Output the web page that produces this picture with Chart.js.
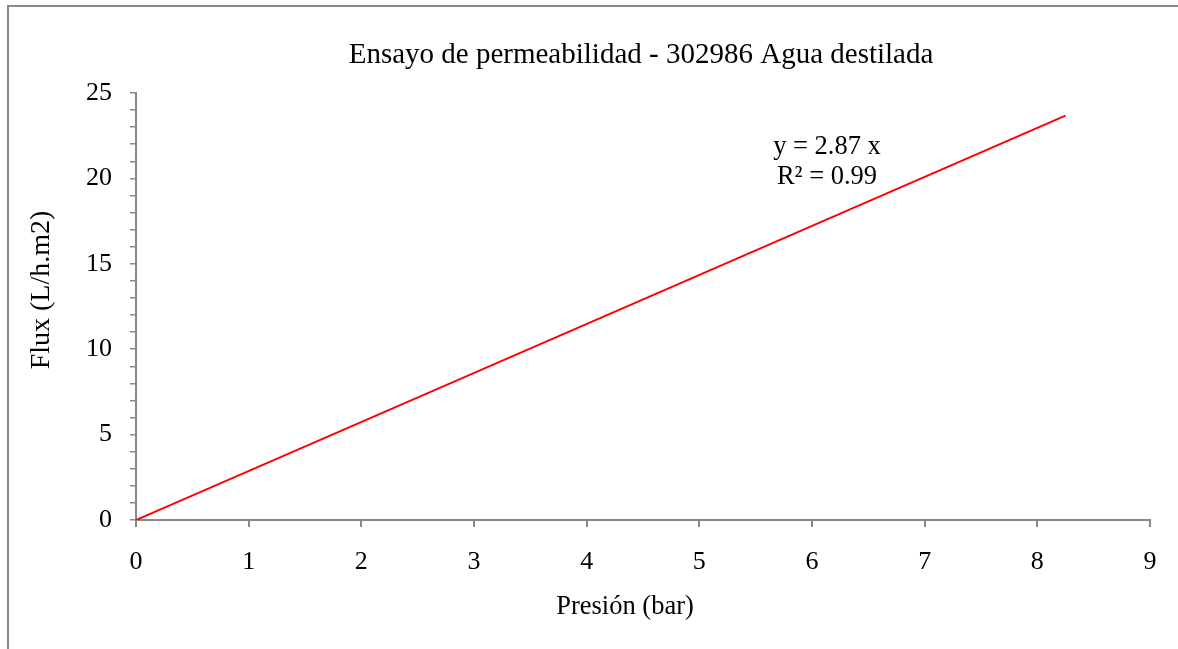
<!DOCTYPE html>
<html>
<head>
<meta charset="utf-8">
<title>Ensayo de permeabilidad</title>
<script src="https://cdn.jsdelivr.net/npm/chart.js@4/dist/chart.umd.min.js"></script>
<style>
  html, body { margin: 0; padding: 0; background: #ffffff; }
  canvas { display: block; }
</style>
</head>
<body>
<canvas id="chart" width="1178" height="649"></canvas>
<script>
// Trend line of flux against pressure (distilled water)
const pressureBar = [0, 8.25];
const fluxValues = [0, 23.68];
const xTicks = [0, 1, 2, 3, 4, 5, 6, 7, 8, 9];
const yLabelTicks = [0, 5, 10, 15, 20, 25];
const chartTitle = 'Ensayo de permeabilidad - 302986 Agua destilada';
const trendLabel = ['y = 2.87 x', 'R\u00b2 = 0.99'];
const xTitle = 'Presi\u00f3n (bar)';
const yTitle = 'Flux (L/h.m2)';

const FONT = "'Liberation Serif', 'Times New Roman', serif";
const AXIS = '#898989';

// Outer frame, titles and the regression label
const decorations = {
  id: 'decorations',
  beforeDraw(chart) {
    const c = chart.ctx;
    c.save();
    c.fillStyle = '#ffffff';
    c.fillRect(0, 0, chart.width, chart.height);
    c.strokeStyle = AXIS;
    c.lineWidth = 2;
    c.beginPath();
    c.moveTo(8, chart.height + 5);
    c.lineTo(8, 6);
    c.lineTo(chart.width + 5, 6);
    c.stroke();
    c.restore();
  },
  afterDraw(chart) {
    const c = chart.ctx;
    c.save();
    c.fillStyle = '#000000';
    c.textAlign = 'center';
    c.textBaseline = 'middle';
    c.font = '29px ' + FONT;
    c.fillText(chartTitle, 641, 55);
    c.font = '26.5px ' + FONT;
    c.fillText(trendLabel[0], 827, 147);
    c.fillText(trendLabel[1], 827, 177);
    c.font = '26.5px ' + FONT;
    c.fillText(xTitle, 625, 607);
    c.translate(42, 290);
    c.rotate(-Math.PI / 2);
    c.font = '28px ' + FONT;
    c.fillText(yTitle, 0, 0);
    c.restore();
  }
};

new Chart(document.getElementById('chart'), {
  type: 'scatter',
  data: {
    datasets: [{
      data: pressureBar.map((p, i) => ({ x: p, y: fluxValues[i] })),
      showLine: true,
      borderColor: '#ff0000',
      borderWidth: 2,
      pointRadius: 0,
      fill: false
    }]
  },
  options: {
    responsive: false,
    animation: false,
    layout: { padding: { top: 93, right: 28, left: 0, bottom: 0 } },
    plugins: {
      legend: { display: false },
      tooltip: { enabled: false },
      title: { display: false }
    },
    scales: {
      x: {
        type: 'linear',
        min: 0,
        max: 9,
        afterBuildTicks(scale) { scale.ticks = xTicks.map(v => ({ value: v })); },
        afterFit(scale) { scale.height = 129; },
        ticks: {
          color: '#000000',
          font: { family: FONT, size: 26 },
          padding: 20,
          maxRotation: 0
        },
        grid: { display: true, drawOnChartArea: false, drawTicks: true, tickLength: 7, color: AXIS, lineWidth: 2 },
        border: { display: true, color: AXIS, width: 2 }
      },
      y: {
        type: 'linear',
        min: 0,
        max: 25,
        ticks: {
          stepSize: 1,
          autoSkip: false,
          color: '#000000',
          font: { family: FONT, size: 26 },
          padding: 18,
          callback: v => (yLabelTicks.includes(v) ? String(v) : '')
        },
        afterFit(scale) { scale.width = 136; },
        grid: { display: true, drawOnChartArea: false, drawTicks: true, tickLength: 6, color: AXIS, lineWidth: 1.5 },
        border: { display: true, color: AXIS, width: 2 }
      }
    }
  },
  plugins: [decorations]
});
</script>
</body>
</html>
